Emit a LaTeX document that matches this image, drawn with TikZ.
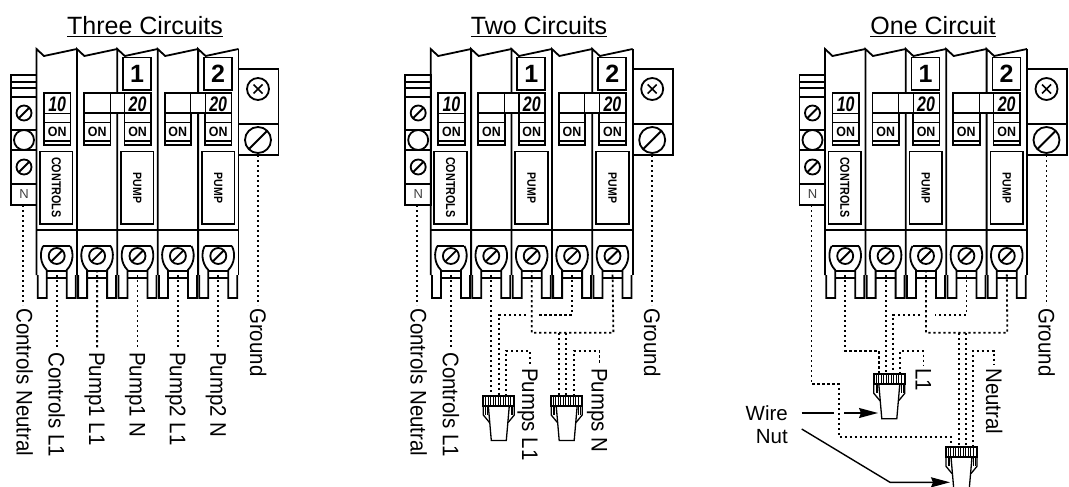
\documentclass[tikz,border=0pt]{standalone}
\usepackage{fontspec}
\setmainfont{Liberation Sans}
\usetikzlibrary{arrows.meta}
\newcommand\fsz[1]{\fontsize{#1}{#1}\selectfont}
\tikzset{
  x=1pt,y=-1pt,
  outline/.style={line width=1.8pt,line join=miter},
  thinline/.style={line width=.6pt},
  wire/.style={line width=1.8pt,dash pattern=on 2.4pt off 2.6pt},
  lbl/.style={rotate=-90,yscale=1.1,anchor=west,inner xsep=3pt,inner ysep=0pt,text height=14.5pt,text depth=0pt,font=\fsz{20.5}},
  ttl/.style={anchor=base,inner sep=0pt,font=\fsz{25}},
  pointer/.style={line width=1.4pt},
  tip/.style={-{Stealth[length=19pt,width=10pt,inset=2pt]}},
}
\newcommand\screwat[3]{% x,y,r
  \draw[outline] (#1,#2) circle[radius=#3pt];
  \draw[line width=1.9pt] ({#1-.72*#3},{#2+.72*#3}) -- ({#1+.72*#3},{#2-.72*#3});
}
\newcommand\panel[2]{% prefix, dx
\begin{scope}[xshift=#2pt]
  % left strip
  \draw[outline] (11,75) rectangle (36.5,205);
  \foreach \y in {82,88,97,130,150,184} \draw[outline] (11,\y) -- (36.5,\y);
  \screwat{24}{113}{7.5}
  \draw[outline] (24,140) circle[radius=10pt];
  \screwat{24}{167}{7.5}
  \node[inner sep=0pt,text=black!75,font=\fsz{13}] (#1n) at (24,194.5) {N};
  % module tops, dividers, lugs
  \draw[outline] (36.5,230) -- (238.5,230);
  \foreach \k/\x in {0/36.5,1/76.9,2/117.3,3/157.7,4/198.1}{
    \pgfmathsetmacro\cx{\x+20.2}
    \pgfmathsetmacro\nx{\x+40.4}
    \draw[outline,line join=miter] (\x,275) -- (\x,49) -- ({\x+7.5},56) -- (\nx,49);
    \draw[outline] ({\cx-13.5},246) -- ({\cx+13.5},246);
    \draw[outline] ({\cx-13.5},246) .. controls ({\cx-17},252) and ({\cx-17},263) .. ({\cx-10},270)
       -- ({\cx-10},298) -- ({\cx-19},298) -- ({\cx-19},275);
    \draw[outline] ({\cx+13.5},246) .. controls ({\cx+17},252) and ({\cx+17},263) .. ({\cx+10},270)
       -- ({\cx+10},298) -- ({\cx+19},298) -- ({\cx+19},275);
    \draw[outline] ({\cx-10},271) -- ({\cx+10},271);
    \draw[outline] ({\cx-10},278) -- ({\cx+10},278);
    \screwat{\cx}{256}{8}
    \coordinate (#1s\k) at (\cx,270);
  }
  \draw[outline] (238.5,49) -- (238.5,275);
  % handles
  \foreach \k/\x/\w in {0/44/{10},1/84/{},2/124.4/{20},3/164.6/{},4/205/{20}}{
    \draw[outline] (\x,93) rectangle ({\x+26.5},145);
    \draw[line width=1.2pt] (\x,122.5) -- ({\x+26.5},122.5);
    \draw[line width=2pt] (\x,140.5) -- ({\x+26.5},140.5);
    \node[inner sep=0pt,xscale=.92,font=\bfseries\fsz{13.5}] (#1on\k) at ({\x+13.2},132) {ON};
    \node[inner sep=0pt,xscale=.76,font=\bfseries\itshape\fsz{21}] (#1val\k) at ({\x+13.2},104) {\w};
  }
  \draw[thinline] (44,113.3) -- (70.5,113.3);
  \foreach \x/\e in {84/151,164.6/231.5}{
    \fill[white] ({\x+26.5},93) rectangle ({\x+40},113);
    \draw[line width=2.1pt] (\x,113.3) -- (\e,113.3);
    \draw[outline] (\x,93) -- ({\x+40},93);
  }
  % number boxes
  \draw[outline] (123,57.5) rectangle (151,90);
  \node[inner sep=0pt,font=\bfseries\fsz{25}] (#1a) at (137,74) {1};
  \draw[outline] (204,57.5) rectangle (232,90);
  \node[inner sep=0pt,font=\bfseries\fsz{25}] (#1b) at (218,74) {2};
  % label plates
  \foreach \x in {40,121,202}
    \draw[outline] (\x,151.5) rectangle ({\x+32.5},224);
  \node[rotate=-90,inner sep=0pt,yscale=1.2,font=\bfseries\fsz{10.8}] (#1c) at (56.3,187.5) {CONTROLS};
  \node[rotate=-90,inner sep=0pt,yscale=1.15,font=\bfseries\fsz{10.5}] (#1p) at (137.3,188) {PUMP};
  \node[rotate=-90,inner sep=0pt,yscale=1.15,font=\bfseries\fsz{10.5}] (#1q) at (218.3,188) {PUMP};
  % ground block
  \draw[outline] (238.5,69) rectangle (278.5,155);
  \draw[outline] (238.5,124) -- (278.5,124);
  \draw[outline] (258,89) circle[radius=11pt];
  \draw[line width=1.5pt] (253.5,84.5) -- (262.5,93.5) (253.5,93.5) -- (262.5,84.5);
  \screwat{258}{140}{13}
  \coordinate (#1cn) at (23,205);
  \coordinate (#1g) at (258,155);
  \node[lbl] (#1glbl) at (258,305) {Ground};
  \draw[wire] (#1g) -- (#1glbl.west);
\end{scope}
}
\newcommand\nut[1]{%
\begin{scope}[shift={(#1)}]
  \foreach \x in {-13.5,-11,...,13.6} \draw[thinline] (\x,0) -- (\x,9.7);
  \foreach \x in {-13.5,-12,13.5,12} \draw[thinline] (\x,9.7) -- (\x,19);
  \draw[outline] (-15.5,0) rectangle (15.5,9.7);
  \draw[line width=1.3pt] (-15.5,9.7) -- (-15.5,19) -- (-9.3,26.5);
  \draw[line width=1.3pt] (15.5,9.7) -- (15.5,19) -- (9.3,26.5);
  \draw[line width=1.3pt] (-10.5,9.7) -- (-7.5,44.5) -- (7.5,44.5) -- (10.5,9.7);
\end{scope}
}
\begin{document}
\begin{tikzpicture}
\useasboundingbox (0,0) rectangle (1069,487);
\clip (0,0) rectangle (1069,487);
\fill[white] (0,0) rectangle (1069,487);
\node[ttl] (t1) at (145,35) {\underline{Three Circuits}};
\node[ttl] (t2) at (539,35) {\underline{Two Circuits}};
\node[ttl] (t3) at (933,35) {\underline{One Circuit}};
\panel{a}{0}
\panel{b}{394.2}
\panel{c}{788.5}
% --- panel 1 wires
\node[lbl] (a0l) at (24.5,305) {Controls Neutral};
\draw[wire] (acn) -- (acn |- a0l.west);
\node[lbl] (a1l) at (56.7,349) {Controls L1};
\node[lbl] (a2l) at (97.1,349) {Pump1 L1};
\node[lbl] (a3l) at (137.5,349) {Pump1 N};
\node[lbl] (a4l) at (177.9,349) {Pump2 L1};
\node[lbl] (a5l) at (218.3,349) {Pump2 N};
\draw[wire] (as0) -- (a1l.west);
\draw[wire] (as1) -- (a2l.west);
\draw[wire] (as2) -- (a3l.west);
\draw[wire] (as3) -- (a4l.west);
\draw[wire] (as4) -- (a5l.west);
% --- panel 2 wires
\node[lbl] (b0l) at (418.7,305) {Controls Neutral};
\draw[wire] (bcn) -- (bcn |- b0l.west);
\node[lbl] (b1l) at (450.9,349) {Controls L1};
\draw[wire] (bs0) -- (b1l.west);
\coordinate (nb1) at (498.8,396);
\coordinate (nb2) at (566.7,396);
\node[lbl] (bp1) at (530,365) {Pumps L1};
\node[lbl] (bp2) at (599.5,365) {Pumps N};
\draw[wire] (bs1) -- (bs1 |- nb1);
\draw[wire] (bs3) |- (538,314.7);
\draw[wire] (526,314.7) -| (499,396);
\draw[wire] (506,396) |- (530,351) -- (bp1.west);
\draw[wire] (bs2) |- (613.4,332.7) -- (bs4);
\draw[wire] (559,333) -- (559,396);
\draw[wire] (566.3,333) -- (566.3,396);
\draw[wire] (573.7,396) |- (599.5,351) -- (bp2.west);
\nut{nb1}
\nut{nb2}
% --- panel 3 wires
\coordinate (nc1) at (889.3,374.3);
\coordinate (nc2) at (961.5,447.3);
\node[lbl] (cl1) at (923.5,365) {L1};
\node[lbl] (cn1) at (994,365) {Neutral};
\draw[wire] (ccn) |- (838.7,384.3) |- (950.7,436.7) -- (950.7,447);
\draw[wire] (cs0) |- (879,351) -- (879,374);
\draw[wire] (cs1) -- (cs1 |- nc1);
\draw[wire] (cs3) |- (935,314.7);
\draw[wire] (920,314.7) -| (893,374);
\draw[wire] (900,374) |- (923.5,351) -- (cl1.west);
\draw[wire] (cs2) |- (1007.3,332.7) -- (cs4);
\draw[wire] (958.7,333) -- (958.7,447);
\draw[wire] (965.7,333) -- (965.7,447);
\draw[wire] (972.7,447) |- (994,351) -- (cn1.west);
\nut{nc1}
\nut{nc2}
% --- wire nut pointers
\node[anchor=east,inner sep=0pt,font=\fsz{20.5}] (wn1) at (788,413) {Wire};
\node[anchor=east,inner sep=0pt,font=\fsz{20.5}] (wn2) at (788,437) {Nut};
\coordinate (pa) at (801.7,413);
\coordinate (pb) at (834,413);
\coordinate (pc) at (844,413);
\coordinate (pd) at (878,413);
\coordinate (pe) at (801.7,429);
\coordinate (pf) at (890,482.3);
\coordinate (pg) at (950,482.3);
\draw[pointer] (pa) -- (pb);
\draw[pointer,tip] (pc) -- (pd);
\draw[pointer,tip] (pe) -- (pf) -- (pg);
\end{tikzpicture}
\end{document}
